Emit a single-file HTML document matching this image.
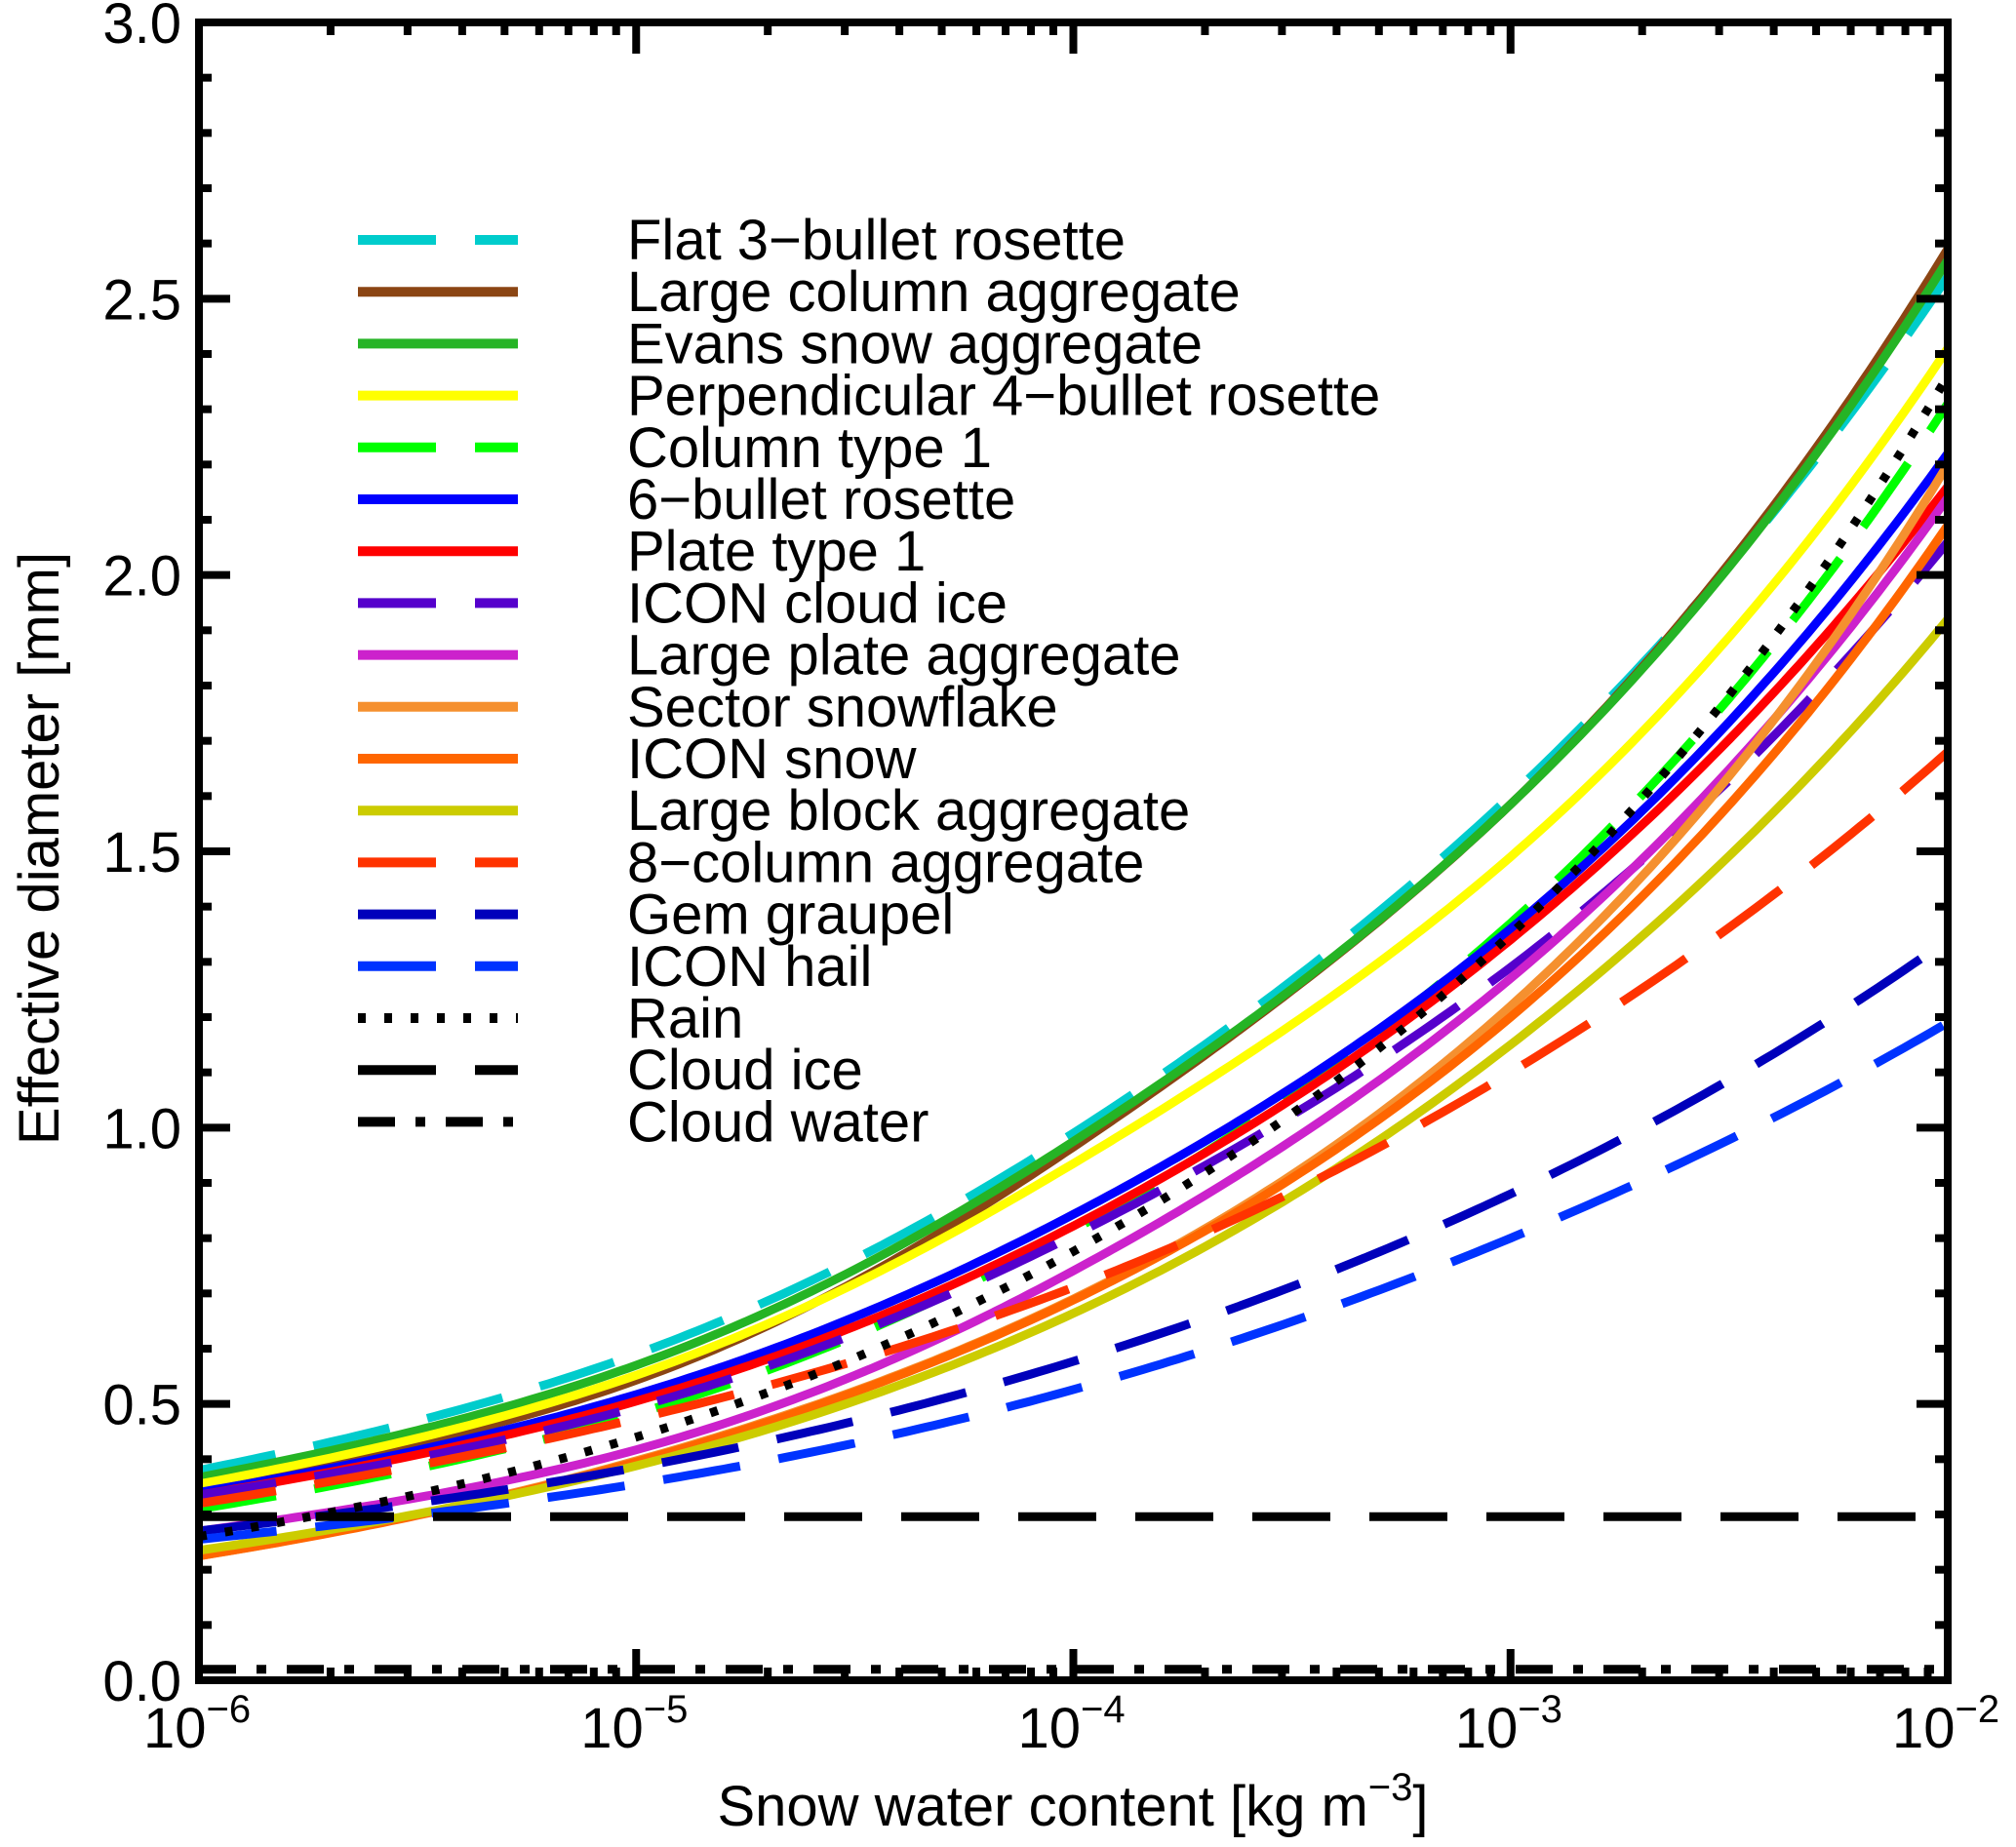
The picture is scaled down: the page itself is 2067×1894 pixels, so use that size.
<!DOCTYPE html>
<html><head><meta charset="utf-8"><style>
html,body{margin:0;padding:0;background:#fff;}
svg{display:block;font-family:"Liberation Sans",Arial,sans-serif;}
</style></head><body>
<svg id="chart" width="2067" height="1894" viewBox="0 0 2067 1894">
<g id="series"></g>
<g id="axes"></g>
<g id="legend"></g>
</svg>
<script>
const xDecades = [-6, -5, -4, -3, -2];
const yTicks = [0.0, 0.5, 1.0, 1.5, 2.0, 2.5, 3.0];
const seriesNames = ["Flat 3\u2212bullet rosette","Large column aggregate","Evans snow aggregate","Perpendicular 4\u2212bullet rosette","Column type 1","6\u2212bullet rosette","Plate type 1","ICON cloud ice","Large plate aggregate","Sector snowflake","ICON snow","Large block aggregate","8\u2212column aggregate","Gem graupel","ICON hail","Rain","Cloud ice","Cloud water"];
const flat3 = [0.38,0.59,0.99,1.60,2.54];
const largeColumn = [0.35,0.543,0.965,1.585,2.59];
const evans = [0.367,0.57,0.975,1.585,2.57];
const perp4 = [0.355,0.552,0.935,1.49,2.41];
const column1 = [0.31,0.482,0.815,1.37,2.31];
const bullet6 = [0.34,0.517,0.843,1.36,2.22];
const plate1 = [0.335,0.505,0.822,1.34,2.16];
const iconIce = [0.335,0.494,0.805,1.29,2.06];
const largePlate = [0.27,0.417,0.741,1.27,2.14];
const sector = [0.225,0.397,0.69,1.22,2.20];
const iconSnow = [0.225,0.395,0.688,1.20,2.09];
const largeBlock = [0.235,0.388,0.664,1.15,1.92];
const col8 = [0.32,0.473,0.711,1.10,1.68];
const gem = [0.27,0.385,0.577,0.88,1.34];
const hail = [0.255,0.355,0.526,0.80,1.19];
const rain = [0.26,0.44,0.776,1.35,2.36];
const cloudIce = [0.296,0.296,0.296,0.296,0.296];
const cloudWater = [0.02,0.02,0.02,0.02,0.02];

const seriesValues = [flat3,largeColumn,evans,perp4,column1,bullet6,plate1,iconIce,largePlate,sector,iconSnow,largeBlock,col8,gem,hail,rain,cloudIce,cloudWater];
const colors = ["#00CCCC","#8B4513","#25B425","#FFFF00","#00FF00","#0000FF","#FF0000","#5500CC","#CC22CC","#F5902F","#FF6600","#CCCC00","#FF3300","#0000BB","#0033FF","#000","#000","#000"];
const dashes = ["80 40",null,null,null,"80 40",null,null,"80 40",null,null,null,null,"80 40","80 40","80 40","8 19","80 40","38 21 10 21"];

const L=204, R=1997, T=23, B=1723;
const xs = lg => L + (lg - (-6)) / 4 * (R - L);
const ys = v => B - v / 3 * (B - T);
const NS="http://www.w3.org/2000/svg";
function mk(tag, attrs, parent){const e=document.createElementNS(NS,tag);for(const k in attrs)e.setAttribute(k,attrs[k]);parent.appendChild(e);return e;}

// natural cubic spline on log(value) vs log(x)
function spline(xArr, yIn, x){
  const n=xArr.length, y=yIn.map(v=>Math.log(v));
  const h=[],al=[],l=[1],mu=[0],z=[0],c=new Array(n).fill(0),b=[],d=[];
  for(let i=0;i<n-1;i++) h.push(xArr[i+1]-xArr[i]);
  for(let i=1;i<n-1;i++) al[i]=3/h[i]*(y[i+1]-y[i])-3/h[i-1]*(y[i]-y[i-1]);
  for(let i=1;i<n-1;i++){l[i]=2*(xArr[i+1]-xArr[i-1])-h[i-1]*mu[i-1];mu[i]=h[i]/l[i];z[i]=(al[i]-h[i-1]*z[i-1])/l[i];}
  for(let j=n-2;j>=0;j--){c[j]=(j===0?0:z[j])-mu[j]*c[j+1];if(j===0)c[0]=0;b[j]=(y[j+1]-y[j])/h[j]-h[j]*(c[j+1]+2*c[j])/3;d[j]=(c[j+1]-c[j])/(3*h[j]);}
  let i=0; while(i<n-2 && x>xArr[i+1]) i++;
  const t=x-xArr[i];
  return Math.exp(y[i]+b[i]*t+c[i]*t*t+d[i]*t*t*t);
}

const sg = document.getElementById('series');
seriesValues.forEach((vals, si) => {
  let pts=[];
  for(let k=0;k<=200;k++){const lx=-6+4*k/200;pts.push(xs(lx).toFixed(1)+","+ys(spline(xDecades,vals,lx)).toFixed(1));}
  const a={points:pts.join(" "),fill:"none",stroke:colors[si],"stroke-width":9};
  if(dashes[si]) a["stroke-dasharray"]=dashes[si];
  const p=mk("polyline",a,sg);
  
  
});

// axes
const ag=document.getElementById('axes');
const frame=mk("rect",{x:L,y:T,width:R-L,height:B-T,fill:"none",stroke:"#000","stroke-width":8},ag);


for(let v=0;v<=30;v++){
  const y=ys(v/10), major=v%5===0, len=major?32:13;
  const t1=mk("line",{x1:L,x2:L+len,y1:y,y2:y,stroke:"#000","stroke-width":8},ag);
  
  
  const t2=mk("line",{x1:R,x2:R-len,y1:y,y2:y,stroke:"#000","stroke-width":8},ag);
  
  
}
yTicks.forEach(v=>{
  const t=mk("text",{x:186,y:ys(v)+21,"text-anchor":"end","font-size":58,fill:"#000"},ag);
  t.textContent=v.toFixed(1);
  
  
});
for(let d=-6; d<-2; d++){
  for(let k=1;k<10;k++){
    const x=xs(d+Math.log10(k)), len=k===1?32:13;
    const a=mk("line",{x1:x,x2:x,y1:B,y2:B-len,stroke:"#000","stroke-width":8},ag);
    
    
    const b=mk("line",{x1:x,x2:x,y1:T,y2:T+len,stroke:"#000","stroke-width":8},ag);
    
    
  }
}
xDecades.forEach(d=>{
  const t=mk("text",{x:xs(d)-2,y:1792,"text-anchor":"middle","font-size":58,fill:"#000"},ag);
  t.innerHTML='10<tspan dy="-26" font-size="40">\u2212'+(-d)+'</tspan>';
  
  
});
const xt=mk("text",{x:1100,y:1872,"text-anchor":"middle","font-size":58,fill:"#000"},ag);
xt.innerHTML='Snow water content [kg m<tspan dy="-26" font-size="40">\u22123</tspan><tspan dy="26">]</tspan>';


const yt=mk("text",{x:0,y:0,"text-anchor":"middle","font-size":58,fill:"#000",transform:"translate(60,870) rotate(-90)"},ag);
yt.textContent="Effective diameter [mm]";



// legend
const lg=document.getElementById('legend');
seriesNames.forEach((name,i)=>{
  const y=246+i*53.2;
  const a={x1:367,x2:531,y1:y,y2:y,stroke:colors[i],"stroke-width":10};
  if(dashes[i]) a["stroke-dasharray"]=dashes[i];
  const l=mk("line",a,lg);
  
  
  const t=mk("text",{x:643,y:y+20,"font-size":58,fill:"#000"},lg);
  t.textContent=name;
  
  
});
</script>
</body></html>
